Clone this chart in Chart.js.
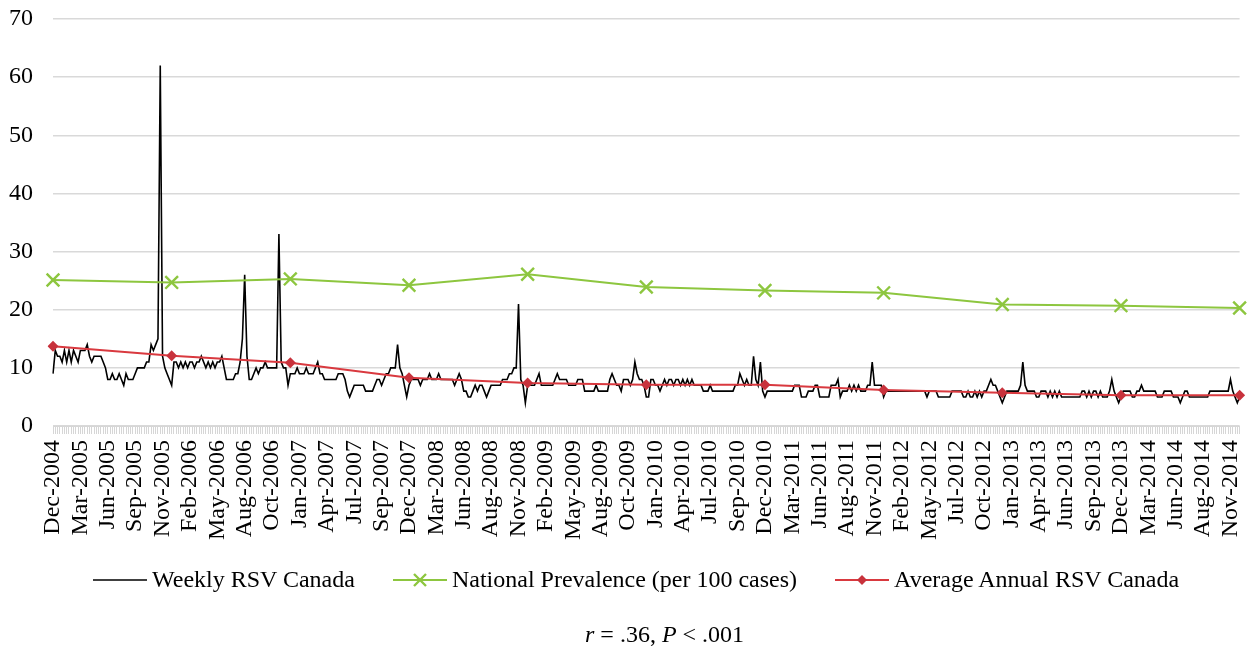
<!DOCTYPE html>
<html>
<head>
<meta charset="utf-8">
<title>Weekly RSV Canada</title>
<script src="https://cdn.jsdelivr.net/npm/chart.js@4.4.1/dist/chart.umd.min.js"></script>
<style>
    html, body { margin: 0; padding: 0; background: #fff; }
    #wrap { position: relative; width: 1251px; height: 650px; font-family: "Liberation Serif", "Times New Roman", serif; color: #000; }
    #rsvChart { position: absolute; left: 0; top: 0; }
    .legend { position: absolute; top: 566px; left: 93px; display: flex; align-items: center; gap: 38px; font-size: 24px; white-space: nowrap; }
    .legend-item { display: flex; align-items: center; }
    .legend-item svg { margin-right: 5px; }
    .note { position: absolute; top: 621px; left: 585px; font-size: 24px; white-space: nowrap; }
</style>
</head>
<body>
<div id="wrap">
    <canvas id="rsvChart" width="1251" height="650"></canvas>
    <div class="legend">
        <div class="legend-item">
            <svg width="54" height="20"><line x1="0" y1="10" x2="54" y2="10" stroke="#000" stroke-width="1.6"/></svg>
            <span>Weekly RSV Canada</span>
        </div>
        <div class="legend-item">
            <svg width="54" height="20"><line x1="0" y1="10" x2="54" y2="10" stroke="#8dc63f" stroke-width="2"/><path d="M21 4 L33 16 M33 4 L21 16" stroke="#8dc63f" stroke-width="2.4"/></svg>
            <span>National Prevalence (per 100 cases)</span>
        </div>
        <div class="legend-item">
            <svg width="54" height="20"><line x1="0" y1="10" x2="54" y2="10" stroke="#d9393f" stroke-width="2"/><path d="M27 5 L32 10 L27 15 L22 10 Z" fill="#c8323c"/></svg>
            <span>Average Annual RSV Canada</span>
        </div>
    </div>
    <div class="note"><i>r</i> = .36, <i>P</i> &lt; .001</div>
</div>

<script>
// Tick labels, one every 12 weeks starting Dec-2004
const tickLabels = [
    'Dec-2004', 'Mar-2005', 'Jun-2005', 'Sep-2005', 'Nov-2005', 'Feb-2006', 'May-2006', 'Aug-2006',
    'Oct-2006', 'Jan-2007', 'Apr-2007', 'Jul-2007', 'Sep-2007', 'Dec-2007', 'Mar-2008', 'Jun-2008',
    'Aug-2008', 'Nov-2008', 'Feb-2009', 'May-2009', 'Aug-2009', 'Oct-2009', 'Jan-2010', 'Apr-2010',
    'Jul-2010', 'Sep-2010', 'Dec-2010', 'Mar-2011', 'Jun-2011', 'Aug-2011', 'Nov-2011', 'Feb-2012',
    'May-2012', 'Jul-2012', 'Oct-2012', 'Jan-2013', 'Apr-2013', 'Jun-2013', 'Sep-2013', 'Dec-2013',
    'Mar-2014', 'Jun-2014', 'Aug-2014', 'Nov-2014'
];

// Weekly RSV Canada (one value per week, 26 per row)
const weeklyRSV = [
    9, 13, 12, 12, 11, 13, 11, 13, 11, 13, 12, 11, 13, 13, 13, 14, 12, 11, 12, 12, 12, 12, 11, 10, 8, 8,
    9, 8, 8, 9, 8, 7, 9, 8, 8, 8, 9, 10, 10, 10, 10, 11, 11, 14, 13, 14, 15, 62, 12, 10, 9, 8,
    7, 11, 11, 10, 11, 10, 11, 10, 11, 11, 10, 11, 11, 12, 11, 10, 11, 10, 11, 10, 11, 11, 12, 10, 8, 8,
    8, 8, 9, 9, 11, 15, 26, 12, 8, 8, 9, 10, 9, 10, 10, 11, 10, 10, 10, 10, 10, 33, 11, 10, 10, 7,
    9, 9, 9, 10, 9, 9, 9, 10, 9, 9, 9, 10, 11, 9, 9, 8, 8, 8, 8, 8, 8, 9, 9, 9, 8, 6,
    5, 6, 7, 7, 7, 7, 7, 6, 6, 6, 6, 7, 8, 8, 7, 8, 9, 9, 10, 10, 10, 14, 10, 9, 7, 5,
    7, 8, 8, 8, 8, 7, 8, 8, 8, 9, 8, 8, 8, 9, 8, 8, 8, 8, 8, 8, 7, 8, 9, 8, 6, 6,
    5, 5, 6, 7, 6, 7, 7, 6, 5, 6, 7, 7, 7, 7, 7, 8, 8, 8, 9, 9, 10, 10, 21, 8, 7, 4,
    7, 7, 7, 7, 8, 9, 7, 7, 7, 7, 7, 7, 8, 9, 8, 8, 8, 8, 7, 7, 7, 7, 8, 8, 8, 6,
    6, 6, 6, 6, 7, 6, 6, 6, 6, 6, 8, 9, 8, 7, 7, 6, 8, 8, 8, 7, 8, 11, 9, 8, 8, 7,
    5, 5, 8, 8, 7, 7, 6, 7, 8, 7, 8, 8, 7, 8, 8, 7, 8, 7, 8, 7, 8, 7, 7, 7, 7, 6,
    6, 6, 7, 6, 6, 6, 6, 6, 6, 6, 6, 6, 6, 7, 7, 9, 8, 7, 8, 7, 7, 12, 8, 7, 11, 6,
    5, 6, 6, 6, 6, 6, 6, 6, 6, 6, 6, 6, 6, 7, 7, 7, 5, 5, 5, 6, 6, 6, 7, 7, 5, 5,
    5, 5, 5, 7, 7, 7, 8, 5, 6, 6, 6, 7, 6, 7, 6, 7, 6, 6, 6, 7, 7, 11, 7, 7, 7, 7,
    5, 6, 6, 6, 6, 6, 6, 6, 6, 6, 6, 6, 6, 6, 6, 6, 6, 6, 6, 5, 6, 6, 6, 6, 5, 5,
    5, 5, 5, 5, 6, 6, 6, 6, 6, 5, 5, 6, 5, 5, 6, 5, 6, 5, 6, 6, 7, 8, 7, 7, 6, 5,
    4, 5, 6, 6, 6, 6, 6, 6, 7, 11, 7, 6, 6, 6, 6, 5, 5, 6, 6, 6, 5, 6, 5, 6, 5, 6,
    5, 5, 5, 5, 5, 5, 5, 5, 5, 6, 6, 5, 6, 5, 6, 6, 5, 6, 5, 5, 5, 6, 8, 6, 5, 4,
    5, 6, 6, 6, 6, 5, 5, 6, 6, 7, 6, 6, 6, 6, 6, 6, 5, 5, 5, 6, 6, 6, 6, 5, 5, 5,
    4, 5, 6, 6, 5, 5, 5, 5, 5, 5, 5, 5, 5, 6, 6, 6, 6, 6, 6, 6, 6, 6, 8, 6, 5, 4,
    5
];

// Annual series, one value every 52 weeks
const nationalPrevalence = [25.1, 24.7, 25.3, 24.2, 26.1, 23.9, 23.3, 22.9, 20.9, 20.7, 20.3];
const annualAverageRSV = [13.7, 12.1, 10.9, 8.3, 7.4, 7.1, 7.1, 6.2, 5.7, 5.3, 5.3];

const WEEKS_PER_LABEL = 12;
const WEEKS_PER_YEAR = 52;

// category labels: text only every 12th week
const labels = weeklyRSV.map((v, i) => i % WEEKS_PER_LABEL === 0 ? (tickLabels[i / WEEKS_PER_LABEL] || '') : '');

// spread the annual values over the weekly axis
function toWeekly(values) {
    const out = new Array(weeklyRSV.length).fill(null);
    values.forEach((v, k) => { out[k * WEEKS_PER_YEAR] = v; });
    return out;
}

const serif = { family: "'Liberation Serif', 'Times New Roman', serif", size: 24 };

new Chart(document.getElementById('rsvChart'), {
    type: 'line',
    data: {
        labels: labels,
        datasets: [{
            label: 'Weekly RSV Canada',
            data: weeklyRSV,
            borderColor: '#000000',
            borderWidth: 1.6,
            pointRadius: 0,
            tension: 0,
            order: 3
        }, {
            label: 'National Prevalence (per 100 cases)',
            data: toWeekly(nationalPrevalence),
            borderColor: '#8dc63f',
            borderWidth: 2,
            pointStyle: 'crossRot',
            pointRadius: 9,
            pointBorderWidth: 2.4,
            pointBorderColor: '#8dc63f',
            spanGaps: true,
            tension: 0,
            order: 2
        }, {
            label: 'Average Annual RSV Canada',
            data: toWeekly(annualAverageRSV),
            borderColor: '#d9393f',
            borderWidth: 2,
            pointStyle: 'rectRot',
            pointRadius: 5.5,
            pointBorderWidth: 0,
            pointBackgroundColor: '#c8323c',
            spanGaps: true,
            tension: 0,
            order: 1
        }]
    },
    options: {
        responsive: false,
        animation: false,
        devicePixelRatio: 1,
        layout: { padding: { left: 9, top: 19, right: 5, bottom: 104 } },
        scales: {
            x: {
                offset: false,
                grid: { drawOnChartArea: false, drawTicks: true, tickLength: 8, color: '#d6d6d6', lineWidth: 1 },
                border: { color: '#d6d6d6' },
                ticks: {
                    autoSkip: false,
                    maxRotation: 90,
                    minRotation: 90,
                    padding: 6,
                    color: '#000',
                    font: serif
                },
                // keep the plot edge where the reference has it
                afterFit: (scale) => { scale.paddingLeft = 0; scale.paddingRight = 0; }
            },
            y: {
                min: 0,
                max: 70,
                grid: { color: '#d9d9d9', lineWidth: 1.5, drawTicks: false },
                border: { display: false },
                ticks: { stepSize: 10, padding: 20, color: '#000', font: serif },
                afterFit: (scale) => { scale.width = 44; scale.paddingTop = 0; scale.paddingBottom = 0; }
            }
        },
        plugins: {
            legend: { display: false },
            tooltip: { enabled: false }
        }
    }
});
</script>
</body>
</html>
